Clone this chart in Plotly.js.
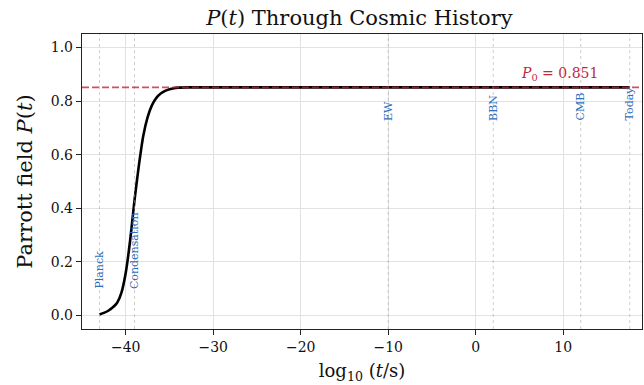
<!DOCTYPE html>
<html>
<head>
<meta charset="utf-8">
<script src="https://cdn.plot.ly/plotly-3.0.1.min.js"></script>
<style>html,body{margin:0;padding:0;background:#fff;}</style>
</head>
<body>
<div id="chart" style="width:644px;height:385px;"></div>
<script>
// Curve P(t)
const logT = [-43, -42.5, -42, -41.5, -41, -40.5, -40, -39.5, -39, -38.5, -38, -37.5, -37, -36.5, -36, -35.5, -35, -34.5, -34, -33, -30, -20, -10, 0, 10, 17.6];
const P    = [0.004, 0.01, 0.018, 0.03, 0.047, 0.085, 0.16, 0.28, 0.43, 0.56, 0.67, 0.74, 0.785, 0.812, 0.828, 0.838, 0.844, 0.848, 0.85, 0.851, 0.851, 0.851, 0.851, 0.851, 0.851, 0.851];

// Epoch markers
const epochNames = ["Planck", "Condensation", "EW", "BBN", "CMB", "Today"];
const epochX     = [-43, -39, -10, 2, 12, 17.6];
const epochLabelY = [0.095, 0.095, 0.723, 0.723, 0.723, 0.723];

const P0 = 0.851;
const xTicks = [-40, -30, -20, -10, 0, 10];
const yTicks = [0.0, 0.2, 0.4, 0.6, 0.8, 1.0];

const FONT = "DejaVu Serif";
const BLUE = "#2f6fbd";
const RED_TXT = "#c0283c";

const shapes = [];
const annotations = [];
epochX.forEach((x, i) => {
  shapes.push({type: "line", xref: "x", yref: "paper", x0: x, x1: x, y0: 0, y1: 1,
    line: {color: "rgba(160,160,160,0.65)", width: 0.8, dash: "dot"}, layer: "above"});
  annotations.push({x: x, y: epochLabelY[i], xref: "x", yref: "y", text: epochNames[i],
    textangle: -90, showarrow: false, xanchor: "center", yanchor: "bottom",
    font: {family: FONT, size: 11, color: BLUE}, borderpad: 0});
});
shapes.push({type: "line", xref: "paper", yref: "y", x0: 0, x1: 1, y0: P0, y1: P0,
  line: {color: "rgba(195,30,55,0.78)", width: 1.6, dash: "7px,3px"}, layer: "above"});
annotations.push({x: 5, y: 0.862, xref: "x", yref: "y", text: "<i>P</i><sub>0</sub> = 0.851",
  showarrow: false, xanchor: "left", yanchor: "bottom",
  font: {family: FONT, size: 14, color: RED_TXT}, borderpad: 0});

const trace = {x: logT, y: P, type: "scatter", mode: "lines",
  line: {color: "#000", width: 2.6, shape: "spline", smoothing: 0.6}, hoverinfo: "skip"};

const axisCommon = {
  showline: true, mirror: true, linecolor: "#222", linewidth: 1.2,
  ticks: "outside", ticklen: 5, tickwidth: 1, tickcolor: "#222",
  showgrid: true, gridcolor: "#e2e2e2", gridwidth: 1, zeroline: false,
  tickfont: {family: FONT, size: 14, color: "#111"}
};

const layout = {
  width: 644, height: 385,
  margin: {l: 82, r: 2, t: 34, b: 56},
  paper_bgcolor: "#fff", plot_bgcolor: "#fff",
  showlegend: false,
  title: {text: "<i>P</i>(<i>t</i>) Through Cosmic History", x: 0.558, xanchor: "center", y: 0.955, yanchor: "middle",
    font: {family: FONT, size: 21, color: "#111"}},
  xaxis: Object.assign({}, axisCommon, {range: [-45, 19], tickvals: xTicks,
    title: {text: "log<sub>10</sub> (<i>t</i>/s)", standoff: 10, font: {family: FONT, size: 18, color: "#111"}}}),
  yaxis: Object.assign({}, axisCommon, {range: [-0.05, 1.05], tickvals: yTicks, tickformat: ".1f",
    title: {text: "Parrott field <i>P</i>(<i>t</i>)", standoff: 12, font: {family: FONT, size: 21, color: "#111"}}}),
  shapes: shapes,
  annotations: annotations
};

Plotly.newPlot("chart", [trace], layout, {staticPlot: true, displayModeBar: false});
</script>
</body>
</html>
